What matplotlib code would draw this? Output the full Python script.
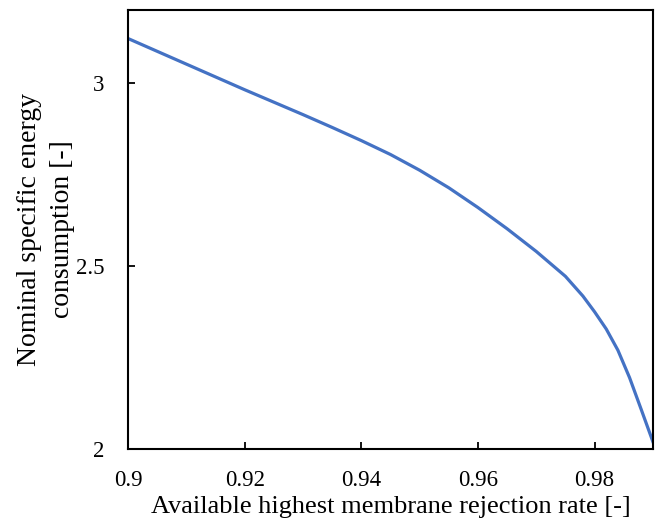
import matplotlib
matplotlib.use('Agg')
import matplotlib.pyplot as plt

# Highest available membrane rejection rate vs. nominal specific energy consumption
rejection = [0.900, 0.905, 0.910, 0.915, 0.920, 0.925, 0.930, 0.935, 0.940, 0.945,
             0.950, 0.955, 0.960, 0.965, 0.970, 0.975, 0.978, 0.980, 0.982, 0.984,
             0.986, 0.988, 0.990]
energy = [3.122, 3.087, 3.052, 3.017, 2.982, 2.948, 2.914, 2.879, 2.843, 2.805,
          2.762, 2.714, 2.660, 2.602, 2.540, 2.472, 2.418, 2.375, 2.328, 2.270,
          2.195, 2.108, 2.020]

x_ticks = [0.9, 0.92, 0.94, 0.96, 0.98]
x_tick_labels = ['0.9', '0.92', '0.94', '0.96', '0.98']
y_ticks = [2, 2.5, 3]
y_tick_labels = ['2', '2.5', '3']

plt.rcParams['font.family'] = ['Liberation Serif', 'DejaVu Serif']

fig = plt.figure(figsize=(6.71, 5.25), dpi=100)
ax = fig.add_axes([0.1908, 0.1448, 0.7822, 0.8362])

ax.plot(rejection, energy, color='#4472C4', linewidth=2.3, solid_joinstyle='round')

ax.set_xlim(0.9, 0.99)
ax.set_ylim(2, 3.2)
ax.set_xticks(x_ticks)
ax.set_xticklabels(x_tick_labels)
ax.set_yticks(y_ticks)
ax.set_yticklabels(y_tick_labels)
ax.tick_params(direction='in', length=5, width=1.3, labelsize=16.5,
               top=False, right=False, colors='black')
ax.tick_params(axis='x', pad=15)
ax.tick_params(axis='y', pad=17)

for spine in ax.spines.values():
    spine.set_linewidth(1.5)
    spine.set_color('black')

ax.set_xlabel('Available highest membrane rejection rate [-]', fontsize=19, labelpad=4)
ax.set_ylabel('Nominal specific energy\nconsumption [-]', fontsize=20, labelpad=1,
              linespacing=1.42)

fig.savefig('out.png', dpi=100, facecolor='white')
